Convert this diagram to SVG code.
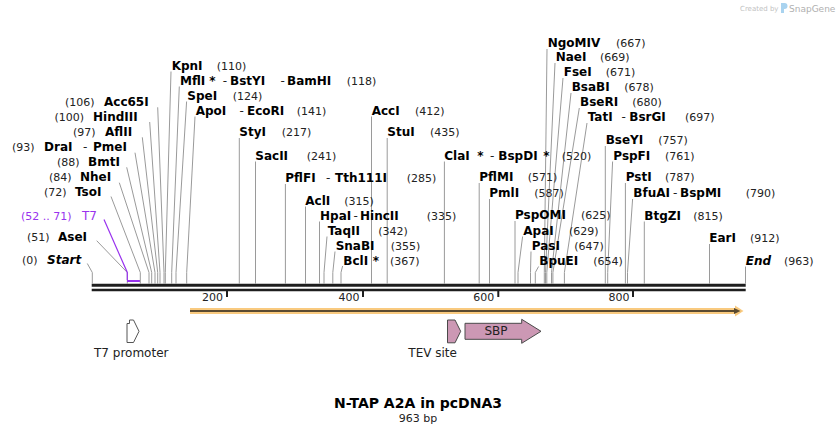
<svg xmlns="http://www.w3.org/2000/svg" width="838" height="434" viewBox="0 0 838 434">
<style>
text{font-family:"DejaVu Sans",Verdana,"Liberation Sans",sans-serif;}
.n{font-size:12px;font-weight:bold;fill:#000;}
.p{font-size:11px;fill:#222;}
.h{font-size:12px;fill:#222;}
.it{font-style:italic;}
.pu{fill:#9933ee;}
.ld{fill:none;stroke:#9a9a9a;stroke-width:1;}
.bb{stroke:#1e1e1e;fill:none;}
.tk{stroke:#1e1e1e;stroke-width:2;}
.ft{fill:#cc98b4;stroke:#4a4a4a;stroke-width:1;}
.fl{font-size:12px;fill:#222;}
</style>
<rect width="838" height="434" fill="#fff"/>

<g id="logo">
<text x="740" y="10.5" style="font-size:7px;fill:#c2c2c2;">Created by</text>
<path d="M781,3 h3.5 a3,3 0 0 1 0,6 h-0.5 v4 h-3 z" fill="#a9d3ef"/>
<text x="789" y="11.5" style="font-size:9px;fill:#b0b0b0;">SnapGene</text>
</g>

<g id="connectors">
<path class="ld" d="M87.3,263.5 L92.3,272.5 V283.5"/>
<path class="ld" d="M96.7,240.7 L127.3,272.5 V283.5"/>
<path fill="none" stroke="#9933ee" stroke-width="1.2" d="M104,219.5 L127.3,272.5 V280"/>
<path fill="none" stroke="#9933ee" stroke-width="2" d="M127,281 H140"/>
<path class="ld" d="M111,196.5 L140.3,272.5 V283.5"/>
<path class="ld" d="M119.3,182.7 L149,272.5 V283.5"/>
<path class="ld" d="M126.7,167.3 L151.7,272.5 V283.5"/>
<path class="ld" d="M135,152.7 L155,272.5 V283.5"/>
<path class="ld" d="M142.3,137.3 L157.7,272.5 V283.5"/>
<path class="ld" d="M149.7,122 L160,272.5 V283.5"/>
<path class="ld" d="M157.7,107.3 L164,272.5 V283.5"/>
<path class="ld" d="M171,71.5 L165.3,272.5 V283.5"/>
<path class="ld" d="M179.3,86.5 L171.7,272.5 V283.5"/>
<path class="ld" d="M186.6,101.5 L176,272.5 V283.5"/>
<path class="ld" d="M195,116.5 L186.7,272.5 V283.5"/>
<path class="ld" d="M239.3,138 V283.5"/>
<path class="ld" d="M255.5,161.5 V283.5"/>
<path class="ld" d="M285.4,184 V283.5"/>
<path class="ld" d="M305.5,206.5 V283.5"/>
<path class="ld" d="M319.5,221.5 V283.5"/>
<path class="ld" d="M327,236.5 L324,272.5 V283.5"/>
<path class="ld" d="M335,251.5 L332.8,272.5 V283.5"/>
<path class="ld" d="M342.6,266 L341,272.5 V283.5"/>
<path class="ld" d="M371.5,116.5 V283.5"/>
<path class="ld" d="M387.2,138 V283.5"/>
<path class="ld" d="M444.4,161.5 V283.5"/>
<path class="ld" d="M479.2,183 V283.5"/>
<path class="ld" d="M489.5,199 V283.5"/>
<path class="ld" d="M515,221 V283.5"/>
<path class="ld" d="M522.6,236.5 L518,272.5 V283.5"/>
<path class="ld" d="M531,251.5 L530.5,272.5 V283.5"/>
<path class="ld" d="M538.6,266.5 L535.3,272.5 V283.5"/>
<path class="ld" d="M547,49 L544.3,272.5 V283.5"/>
<path class="ld" d="M555,63 L545.5,272.5 V283.5"/>
<path class="ld" d="M563,78 L546.8,272.5 V283.5"/>
<path class="ld" d="M571,93 L551.5,272.5 V283.5"/>
<path class="ld" d="M579.3,108 L552.9,272.5 V283.5"/>
<path class="ld" d="M587,123 L564.4,272.5 V283.5"/>
<path class="ld" d="M605.3,146 V283.5"/>
<path class="ld" d="M612.6,161.5 L607.7,272.5 V283.5"/>
<path class="ld" d="M625.4,183 V283.5"/>
<path class="ld" d="M632.6,199 L627.5,272.5 V283.5"/>
<path class="ld" d="M644.3,221.5 V283.5"/>
<path class="ld" d="M709.5,244 V283.5"/>
<path class="ld" d="M745.5,266.5 V283.5"/>
</g>

<g id="backbone">
<path class="bb" stroke-width="3" d="M91.7,285.2 H745.7"/>
<path class="bb" stroke-width="2.5" d="M91.7,290 H745.7"/>
<path class="tk" d="M227,291 V297 M363,291 V297 M498.3,291 V297 M633,291 V297"/>
<text class="p" x="223" y="301" text-anchor="end">200</text>
<text class="p" x="359.5" y="301" text-anchor="end">400</text>
<text class="p" x="494.3" y="301" text-anchor="end">600</text>
<text class="p" x="629.5" y="301" text-anchor="end">800</text>
</g>

<g id="lbl-start"><text class="p" x="22" y="264">(0)</text><text class="n it" x="47" y="264">Start</text></g>
<g id="lbl-asei"><text class="p" x="27" y="241">(51)</text><text class="n" x="58" y="241">AseI</text></g>
<g id="lbl-t7"><text class="p pu" x="21" y="219.5">(52 .. 71)</text><text class="h pu" x="82" y="219.5">T7</text></g>
<g id="lbl-tsoi"><text class="p" x="44" y="196">(72)</text><text class="n" x="75" y="196">TsoI</text></g>
<g id="lbl-nhei"><text class="p" x="49" y="181">(84)</text><text class="n" x="80" y="181">NheI</text></g>
<g id="lbl-bmti"><text class="p" x="57" y="166">(88)</text><text class="n" x="88" y="166">BmtI</text></g>
<g id="lbl-drai"><text class="p" x="12" y="151.3">(93)</text><text class="n" x="44" y="151.3">DraI</text><text class="h" x="83" y="151.3">-</text><text class="n" x="93" y="151.3">PmeI</text></g>
<g id="lbl-aflii"><text class="p" x="73" y="136">(97)</text><text class="n" x="105" y="136">AflII</text></g>
<g id="lbl-hindiii"><text class="p" x="54.5" y="121">(100)</text><text class="n" x="93" y="121">HindIII</text></g>
<g id="lbl-acc65i"><text class="p" x="65" y="106">(106)</text><text class="n" x="104" y="106">Acc65I</text></g>

<g id="lbl-kpni"><text class="n" x="171.7" y="69.5">KpnI</text><text class="p" x="216.7" y="69.5">(110)</text></g>
<g id="lbl-mfli"><text class="n" x="180" y="84.5">MflI</text><text class="n" x="209.3" y="84.5">*</text><text class="h" x="222.7" y="84.5">-</text><text class="n" x="230" y="84.5">BstYI</text><text class="h" x="280.5" y="84.5">-</text><text class="n" x="287" y="84.5">BamHI</text><text class="p" x="346.7" y="84.5">(118)</text></g>
<g id="lbl-spei"><text class="n" x="187.3" y="99.5">SpeI</text><text class="p" x="232.7" y="99.5">(124)</text></g>
<g id="lbl-apoi"><text class="n" x="195.7" y="114.5">ApoI</text><text class="h" x="239.5" y="114.5">-</text><text class="n" x="247" y="114.5">EcoRI</text><text class="p" x="296.7" y="114.5">(141)</text></g>
<g id="lbl-styi"><text class="n" x="239.3" y="136">StyI</text><text class="p" x="281.7" y="136">(217)</text></g>
<g id="lbl-sacii"><text class="n" x="255.3" y="159.5">SacII</text><text class="p" x="306.7" y="159.5">(241)</text></g>
<g id="lbl-pflfi"><text class="n" x="285.3" y="181.8">PflFI</text><text class="h" x="326" y="181.8">-</text><text class="n" x="335" y="181.8">Tth111I</text><text class="p" x="406.7" y="181.8">(285)</text></g>
<g id="lbl-acli"><text class="n" x="305.3" y="204.5">AclI</text><text class="p" x="344.3" y="204.5">(315)</text></g>
<g id="lbl-hpai"><text class="n" x="320" y="219.5">HpaI</text><text class="h" x="353.5" y="219.5">-</text><text class="n" x="360" y="219.5">HincII</text><text class="p" x="426.7" y="219.5">(335)</text></g>
<g id="lbl-taqii"><text class="n" x="327.7" y="234.5">TaqII</text><text class="p" x="378.3" y="234.5">(342)</text></g>
<g id="lbl-snabi"><text class="n" x="335.7" y="249.5">SnaBI</text><text class="p" x="390.7" y="249.5">(355)</text></g>
<g id="lbl-bcli"><text class="n" x="343.3" y="264.5">BclI</text><text class="n" x="372.7" y="264.5">*</text><text class="p" x="390" y="264.5">(367)</text></g>
<g id="lbl-acci"><text class="n" x="371.7" y="114.5">AccI</text><text class="p" x="415" y="114.5">(412)</text></g>
<g id="lbl-stui"><text class="n" x="387.3" y="136">StuI</text><text class="p" x="430" y="136">(435)</text></g>
<g id="lbl-clai"><text class="n" x="444.3" y="159.5">ClaI</text><text class="n" x="477.3" y="159.5">*</text><text class="h" x="490" y="159.5">-</text><text class="n" x="498.3" y="159.5">BspDI</text><text class="n" x="543.3" y="159.5">*</text><text class="p" x="561.7" y="159.5">(520)</text></g>
<g id="lbl-pflmi"><text class="n" x="479.3" y="181">PflMI</text><text class="p" x="527.7" y="181">(571)</text></g>
<g id="lbl-pmli"><text class="n" x="489.3" y="196.8">PmlI</text><text class="p" x="534.3" y="196.8">(587)</text></g>
<g id="lbl-pspomi"><text class="n" x="515" y="218.8">PspOMI</text><text class="p" x="581" y="218.8">(625)</text></g>
<g id="lbl-apai"><text class="n" x="523.3" y="234.5">ApaI</text><text class="p" x="569" y="234.5">(629)</text></g>
<g id="lbl-pasi"><text class="n" x="531.7" y="249.5">PasI</text><text class="p" x="574.3" y="249.5">(647)</text></g>
<g id="lbl-bpuei"><text class="n" x="539.3" y="264.5">BpuEI</text><text class="p" x="593.3" y="264.5">(654)</text></g>
<g id="lbl-ngomiv"><text class="n" x="547.7" y="46.8">NgoMIV</text><text class="p" x="616" y="46.8">(667)</text></g>
<g id="lbl-naei"><text class="n" x="555.7" y="61.2">NaeI</text><text class="p" x="600" y="61.2">(669)</text></g>
<g id="lbl-fsei"><text class="n" x="563.7" y="76.2">FseI</text><text class="p" x="605.7" y="76.2">(671)</text></g>
<g id="lbl-bsabi"><text class="n" x="571.7" y="91.2">BsaBI</text><text class="p" x="624.3" y="91.2">(678)</text></g>
<g id="lbl-bseri"><text class="n" x="580" y="106.2">BseRI</text><text class="p" x="632.3" y="106.2">(680)</text></g>
<g id="lbl-tati"><text class="n" x="587.7" y="121.2">TatI</text><text class="h" x="621.5" y="121.2">-</text><text class="n" x="629.3" y="121.2">BsrGI</text><text class="p" x="685" y="121.2">(697)</text></g>
<g id="lbl-bseyi"><text class="n" x="605.7" y="143.8">BseYI</text><text class="p" x="658.3" y="143.8">(757)</text></g>
<g id="lbl-pspfi"><text class="n" x="613.3" y="159.5">PspFI</text><text class="p" x="665" y="159.5">(761)</text></g>
<g id="lbl-psti"><text class="n" x="625.7" y="181">PstI</text><text class="p" x="665" y="181">(787)</text></g>
<g id="lbl-bfuai"><text class="n" x="633.3" y="196.8">BfuAI</text><text class="h" x="673" y="196.8">-</text><text class="n" x="680" y="196.8">BspMI</text><text class="p" x="745.7" y="196.8">(790)</text></g>
<g id="lbl-btgzi"><text class="n" x="644.3" y="219.5">BtgZI</text><text class="p" x="693.3" y="219.5">(815)</text></g>
<g id="lbl-eari"><text class="n" x="709.3" y="242">EarI</text><text class="p" x="750" y="242">(912)</text></g>
<g id="lbl-end"><text class="n it" x="745.7" y="264.5">End</text><text class="p" x="784" y="264.5">(963)</text></g>

<g id="feat-orf">
<path d="M190,311 H737" stroke="#f9ca7f" stroke-width="6" fill="none"/>
<polygon points="735,305.5 743.5,311 735,316.5" fill="#f9ca7f"/>
<path d="M190,311 H736" stroke="#5a4a30" stroke-width="2" fill="none"/>
<polygon points="734,308 740.5,311 734,314" fill="#5a4a30"/>
</g>

<g id="feat-t7promoter">
<polygon points="127,323.5 129.5,323.5 129.5,320 133.5,320 139,331.3 133.5,342.5 127,342.5" fill="#fff" stroke="#555" stroke-width="1"/>
<text class="fl" x="94" y="357">T7 promoter</text>
</g>
<g id="feat-tev">
<polygon class="ft" points="447.5,320 455,320 460.7,331.3 455,342.8 447.5,342.8"/>
<text class="fl" x="408.3" y="357">TEV site</text>
</g>
<g id="feat-sbp">
<polygon class="ft" points="465,323.3 521.7,323.3 521.7,319.3 541,331.3 521.7,343.3 521.7,339.3 465,339.3"/>
<text class="fl" x="496" y="335" text-anchor="middle">SBP</text>
</g>

<g id="title">
<text x="418" y="407.5" text-anchor="middle" style="font-size:14px;font-weight:bold;fill:#000;">N-TAP A2A in pcDNA3</text>
<text x="418" y="422" text-anchor="middle" style="font-size:11px;fill:#222;">963 bp</text>
</g>
</svg>
